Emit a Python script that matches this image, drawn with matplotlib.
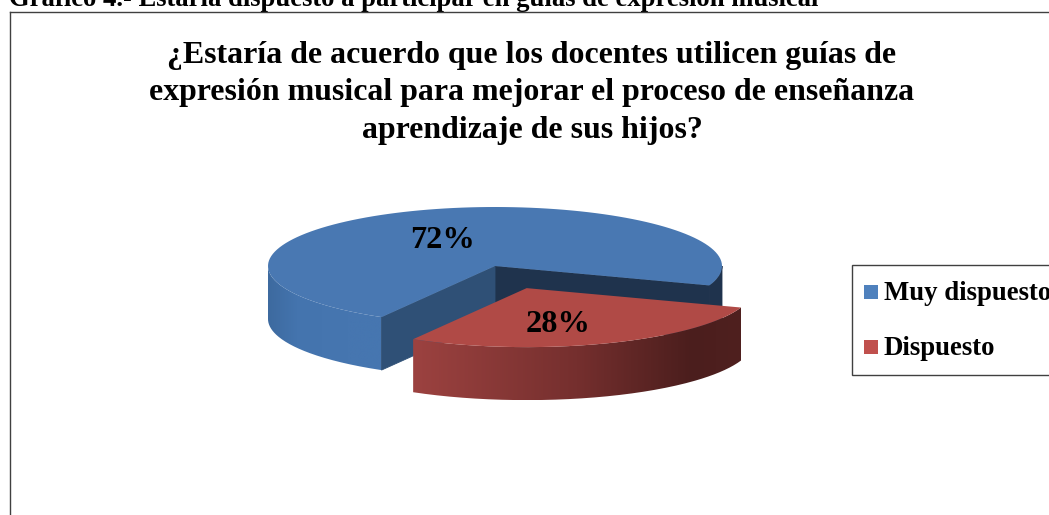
import numpy as np
import matplotlib
matplotlib.use("Agg")
import matplotlib.pyplot as plt
from matplotlib.colors import LinearSegmentedColormap
from matplotlib.patches import PathPatch, Polygon, Rectangle
from matplotlib.path import Path

plt.rcParams['font.family'] = ['Liberation Serif', 'DejaVu Serif']

header = "Gráfico 4.- Estaría dispuesto a participar en guías de expresión musical"
title_lines = ["¿Estaría de acuerdo que los docentes utilicen guías de",
               "expresión musical para mejorar el proceso de enseñanza",
               "aprendizaje de sus hijos?"]
labels = ["Muy dispuesto", "Dispuesto"]
values = [72, 28]

CX, CY = 495, 266    # centre of the pie top, in pixels
RX, RY = 227, 59
DEPTH = 53
EXPLODE = 0.40
RED_START = -120.0   # degrees, where the Dispuesto slice begins

fig = plt.figure(figsize=(10.49, 5.15), dpi=100)
ax = fig.add_axes([0, 0, 1, 1])


def arc(t1, t2, dx=0, dy=0, n=120):
    t = np.radians(np.linspace(t1, t2, n))
    return np.column_stack([CX + dx + RX*np.cos(t), CY + dy - RY*np.sin(t)])


def side(t1, t2, dx=0, dy=0):
    up = arc(t1, t2, dx, dy)
    down = arc(t2, t1, dx, dy + DEPTH)
    return np.vstack([up, down])


def gradient(pts, stops, z):
    # horizontal gradient clipped on a polygon
    cmap = LinearSegmentedColormap.from_list("g", stops)
    x0, x1 = pts[:, 0].min(), pts[:, 0].max()
    y0, y1 = pts[:, 1].min(), pts[:, 1].max()
    im = ax.imshow(np.linspace(0, 1, 256).reshape(1, -1), cmap=cmap, aspect='auto',
                   extent=[x0, x1, y1, y0], zorder=z, interpolation='bilinear')
    clip = PathPatch(Path(np.vstack([pts, pts[:1]])), transform=ax.transData, fc='none', ec='none')
    ax.add_patch(clip)
    im.set_clip_path(clip)


sweep = [v / sum(values) * 360 for v in values]
red_a, red_b = RED_START, RED_START + sweep[1]
blue_a, blue_b = red_b, red_b + sweep[0]

mid = np.radians((red_a + red_b) / 2)
off_x = EXPLODE * RX * np.cos(mid)
off_y = -EXPLODE * RY * np.sin(mid)

# blue slice: outer wall, cut faces, top
gradient(side(180, blue_b), [(0, "#3d6a9f"), (0.25, "#4474ae"), (0.7, "#4676b0"), (1, "#4676b0")], 2)
ax.add_patch(Polygon(side(blue_a, 0), fc="#1f334d", ec="#1f334d", lw=0.6, zorder=2))
apex = np.array([[CX, CY]])
end_r = arc(blue_a, blue_a, n=1)
end_l = arc(blue_b, blue_b, n=1)
ax.add_patch(Polygon(np.vstack([apex, end_r, end_r + [0, DEPTH], apex + [0, DEPTH]]),
                     fc="#1f334d", ec="#1f334d", lw=0.6, zorder=3))
ax.add_patch(Polygon(np.vstack([apex, end_l, end_l + [0, DEPTH], apex + [0, DEPTH]]),
                     fc="#2f5076", ec="#2f5076", lw=0.6, zorder=4))
ax.add_patch(Polygon(np.vstack([apex, arc(blue_a, blue_b)]), fc="#4978b2", ec="none", zorder=5))

# red slice moved out of the pie
gradient(side(red_a, red_b, off_x, off_y), [(0, "#9c4240"), (0.5, "#752f2e"), (0.85, "#4b1e1d"), (1, "#4f201f")], 6)
ax.add_patch(Polygon(np.vstack([[[CX + off_x, CY + off_y]], arc(red_a, red_b, off_x, off_y)]),
                     fc="#b04a46", ec="none", zorder=7))

ax.text(443, 248, f"{values[0]}%", fontsize=23.3, fontweight='bold', ha='center', va='baseline', zorder=8)
ax.text(558, 332, f"{values[1]}%", fontsize=23.3, fontweight='bold', ha='center', va='baseline', zorder=8)

# titles
ax.text(9, 6, header, fontsize=19.2, fontweight='bold', ha='left', va='baseline', zorder=8)
for txt, y in zip(title_lines, [63, 100, 138]):
    ax.text(532, y, txt, fontsize=22.95, fontweight='bold', ha='center', va='baseline', zorder=8)

# chart frame
ax.plot([9.5, 9.5], [515, 11.5], color="#404040", lw=1, zorder=8)
ax.plot([9.5, 1049], [11.5, 11.5], color="#404040", lw=1, zorder=8)

# legend
ax.add_patch(Rectangle((852, 264.5), 210, 110, fc="white", ec="#404040", lw=1, zorder=8))
ax.add_patch(Rectangle((864, 285), 14, 14, fc="#4f81bd", ec="none", zorder=9))
ax.add_patch(Rectangle((864, 340), 14, 14, fc="#c0504d", ec="none", zorder=9))
ax.text(884, 300, labels[0], fontsize=19.3, fontweight='bold', ha='left', va='baseline', zorder=9, clip_on=True)
ax.text(884, 355, labels[1], fontsize=19.3, fontweight='bold', ha='left', va='baseline', zorder=9)

ax.set_xlim(0, 1049)
ax.set_ylim(515, 0)
ax.axis('off')
fig.savefig("out.png", dpi=100)
